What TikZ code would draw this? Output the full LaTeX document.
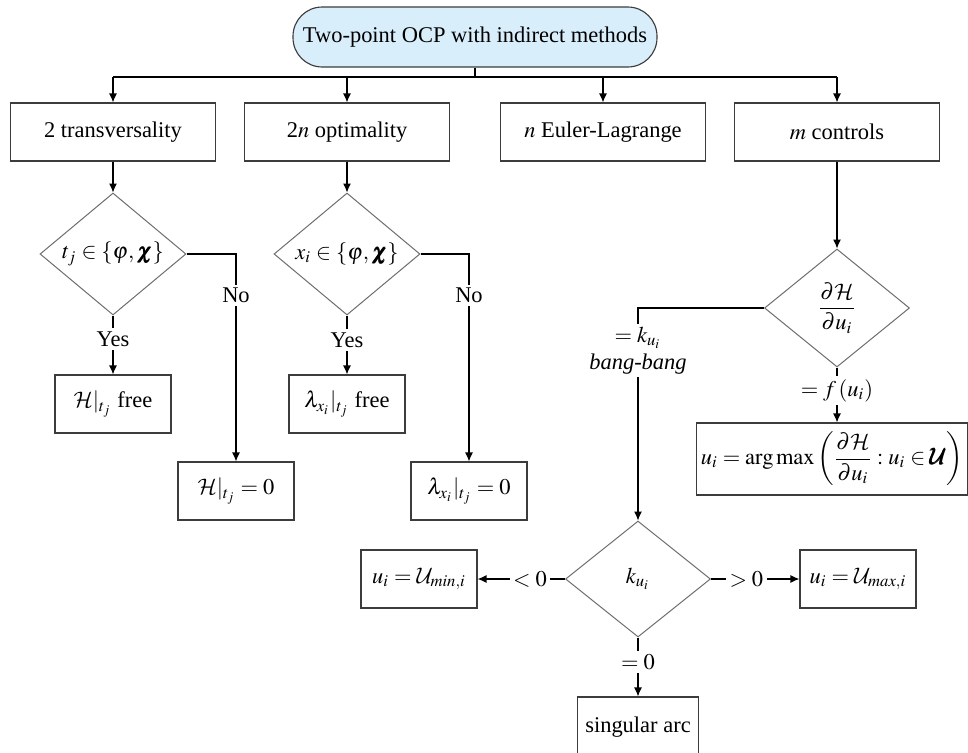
\documentclass[tikz,border=0pt]{standalone}
\usepackage{amsmath}
\usepackage{mathptmx}
\usepackage{bm}
\usepackage{fontspec}
\setmainfont{Liberation Serif}
\DeclareMathAlphabet{\mathcal}{OMS}{cmsy}{m}{n}
\SetMathAlphabet{\mathcal}{bold}{OMS}{cmsy}{b}{n}
\usetikzlibrary{shapes,shapes.geometric,arrows.meta,calc,positioning}

\newcommand{\pxu}{0.445pt}
\newcommand{\boldU}{\pmb{\text{\boldmath$\mathcal{U}$}}}
\definecolor{boxgray}{RGB}{60,60,60}
\definecolor{diagray}{RGB}{110,110,110}
\definecolor{startblue}{RGB}{217,238,251}

\tikzset{
	block/.style={rectangle,draw=boxgray,line width=0.5pt,minimum width=205*\pxu,minimum height=58*\pxu,inner sep=2pt},
	smallblock/.style={block,minimum width=116*\pxu},
	decision/.style={diamond,draw=diagray,line width=0.45pt,aspect=1.2,inner sep=0pt,minimum width=146*\pxu,minimum height=122*\pxu},
	startblock/.style={rectangle,rounded corners=13pt,draw=boxgray,line width=0.5pt,fill=startblue,minimum width=364*\pxu,minimum height=60*\pxu},
	lbl/.style={fill=white,inner sep=1.5pt}
}

\begin{document}
\begin{tikzpicture}
	[x=\pxu,y=-\pxu,line width=0.55pt,>={Latex[length=4pt,width=3.6pt]}]
	\useasboundingbox (0,0) rectangle (968,753);

	\node[startblock] (ocp) at (475,37) {Two-point OCP with indirect methods};

	% first row
	\node[block] (tv) at (113,132) {2 transversality};
	\node[block] (opt) at (347,132) {2$n$ optimality};
	\node[block] (el) at (603,132) {$n$ Euler-Lagrange};
	\node[block] (ctl) at (837,132) {$m$ controls};

	\coordinate (bus) at (475,77);
	\draw (ocp.south) -- (bus);
	\draw (bus -| tv.north) -- (bus -| ctl.north);
	\path
	\foreach \blk in {tv,opt,el,ctl}
	{
		(bus -| \blk.north) edge[->] (\blk.north)
	};

	% transversality and optimality
	\node[decision] (dtv) at (113,254) {$t_j\in\{\varphi,\bm{\chi}\}$};
	\node[decision] (dopt) at (347,254) {$x_i\in\{\varphi,\bm{\chi}\}$};
	\node[smallblock] (hfree) at (113,404) {$\mathcal{H}|_{t_j}$ free};
	\node[smallblock] (lfree) at (347,404) {$\lambda_{x_i}|_{t_j}$ free};
	\node[smallblock] (hzero) at (236,491) {$\mathcal{H}|_{t_j}=0$};
	\node[smallblock] (lzero) at (469,491) {$\lambda_{x_i}|_{t_j}=0$};

	\draw[->] (tv) -- (dtv);
	\draw[->] (opt) -- (dopt);
	\draw[->] (dtv.south) -- node[lbl,pos=0.4]{Yes} (hfree.north);
	\draw[->] (dtv.east) -| node[lbl,pos=0.6]{No} (hzero.north);
	\draw[->] (dopt.south) -- node[lbl,pos=0.42]{Yes} (lfree.north);
	\draw[->] (dopt.east) -| node[lbl,pos=0.6]{No} (lzero.north);

	% controls
	\node[decision,minimum height=118*\pxu,minimum width=145*\pxu] (dctl) at (837,308) {$\dfrac{\partial\mathcal{H}}{\partial u_i}$};
	\node[block,minimum width=270*\pxu,minimum height=72*\pxu] (argmax) at (832,459)
		{$u_i=\arg\max\left(\dfrac{\partial\mathcal{H}}{\partial u_i}:u_i\in\boldU\right)$};
	\node[decision,minimum height=116*\pxu,minimum width=145*\pxu] (dk) at (638,579) {$k_{u_i}$};
	\node[smallblock] (umin) at (419,579) {$u_i=\mathcal{U}_{min,i}$};
	\node[smallblock] (umax) at (858,579) {$u_i=\mathcal{U}_{max,i}$};
	\node[smallblock,minimum width=121*\pxu,minimum height=60*\pxu] (sing) at (638,727) {singular arc};

	\draw[->] (ctl) -- (dctl);
	\draw[->] (dctl.south) -- node[lbl,pos=0.42]{$=f\left(u_i\right)$} (dctl.south |- argmax.north);
	\draw[->] (dctl.west) -| node[lbl,pos=0.6,align=center]{$=k_{u_i}$\\\textit{bang-bang}} (dk.north);
	\draw[->] (dk.west) -- node[lbl,pos=0.4]{$<0$} (umin.east);
	\draw[->] (dk.east) -- node[lbl,pos=0.4]{$>0$} (umax.west);
	\draw[->] (dk.south) -- node[lbl,pos=0.42]{$=0$} (sing.north);
\end{tikzpicture}
\end{document}
